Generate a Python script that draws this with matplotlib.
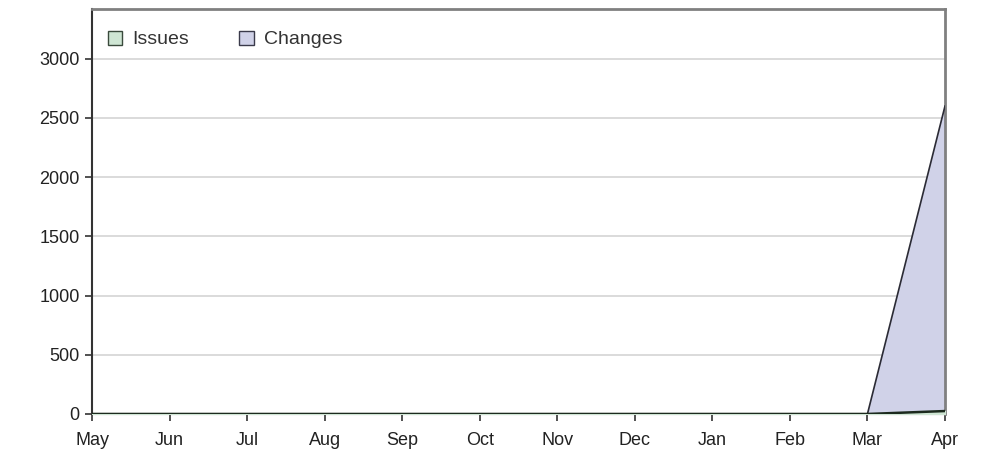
import matplotlib
matplotlib.use("Agg")
import matplotlib.pyplot as plt
from matplotlib.patches import Patch

# monthly totals, May..Apr
months = ['May', 'Jun', 'Jul', 'Aug', 'Sep', 'Oct', 'Nov', 'Dec', 'Jan', 'Feb', 'Mar', 'Apr']
changes = [0, 0, 0, 0, 0, 0, 0, 0, 0, 0, 0, 2600]
issues = [0, 0, 0, 0, 0, 0, 0, 0, 0, 0, 0, 25]

plt.rcParams['font.family'] = ['Liberation Sans', 'DejaVu Sans']

x = list(range(len(months)))

fig = plt.figure(figsize=(9.82, 4.53), dpi=100)
ax = fig.add_axes([0.0937, 0.0861, 0.8686, 0.894])

# gridlines
for yv in range(500, 3500, 500):
    ax.axhline(yv, color='#d4d4d4', lw=1.2, zorder=0)

ax.fill_between(x, changes, color='#d0d2e8', zorder=2)
ax.plot(x, changes, color='#2b2b35', lw=1.2, zorder=3)
ax.fill_between(x, issues, color='#cfe6d4', zorder=4)
ax.plot(x, issues, color='#1c2a1e', lw=1.8, zorder=5)

ax.set_xlim(0, 11)
ax.set_ylim(0, 3420)
ax.set_xticks(x)
ax.set_xticklabels(months)
ax.set_yticks(range(0, 3500, 500))
ax.tick_params(axis='both', direction='out', length=5, width=1.2, colors='#333333',
               labelsize=13, labelcolor='#222222')
ax.tick_params(axis='x', pad=8)
ax.tick_params(axis='y', pad=4)

for side in ['left', 'bottom']:
    ax.spines[side].set_color('#333333')
    ax.spines[side].set_linewidth(1.5)
for side in ['top', 'right']:
    ax.spines[side].set_color('#808080')
    ax.spines[side].set_linewidth(2)

handles = [Patch(facecolor='#cfe6d4', edgecolor='#3a4a3c', label='Issues'),
           Patch(facecolor='#d0d2e8', edgecolor='#3a3a4a', label='Changes')]
ax.legend(handles=handles, loc='upper left', ncol=2, frameon=False, fontsize=14,
          handlelength=0.75, handleheight=0.75, columnspacing=2.6, handletextpad=0.5,
          labelcolor='#333333', bbox_to_anchor=(-0.002, 0.99))

fig.savefig('out.png', dpi=100)
